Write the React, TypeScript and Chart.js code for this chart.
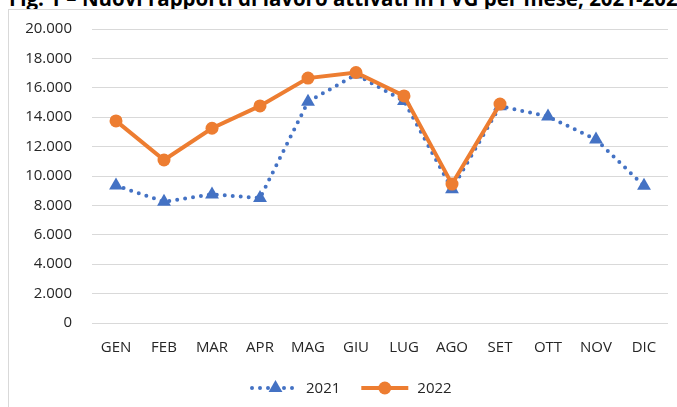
import React, { useEffect, useRef } from "react";
import { Chart, registerables } from "chart.js";

Chart.register(...registerables);

const TITLE = "Fig. 1 – Nuovi rapporti di lavoro attivati in FVG per mese, 2021-2022";
const months = ["GEN", "FEB", "MAR", "APR", "MAG", "GIU", "LUG", "AGO", "SET", "OTT", "NOV", "DIC"];
const values2021 = [9350, 8250, 8750, 8500, 15050, 16900, 15100, 9100, 14750, 14050, 12480, 9330];
const values2022 = [13750, 11090, 13250, 14770, 16660, 17040, 15450, 9450, 14890, null, null, null];
const yTicks = [0, 2000, 4000, 6000, 8000, 10000, 12000, 14000, 16000, 18000, 20000];

const BLUE = "#4472C4";
const ORANGE = "#ED7D31";
const FONT = '"Open Sans", "Noto Sans", sans-serif';
const TEXT = "#262626";

const fmt = (v: number) => v.toLocaleString("de-DE");

const legendPlugin = {
  id: "excelLegend",
  afterDraw(chart: any) {
    const ctx = chart.ctx as CanvasRenderingContext2D;
    const y = 378;
    ctx.save();
    ctx.font = `15px ${FONT}`;
    ctx.textBaseline = "middle";
    ctx.fillStyle = TEXT;
    const ds = chart.data.datasets;
    let x = 241;
    // 2021 sample
    ctx.strokeStyle = BLUE;
    ctx.lineWidth = 4;
    ctx.lineCap = "round";
    ctx.setLineDash([0, 8]);
    ctx.beginPath();
    ctx.moveTo(x + 2, y);
    ctx.lineTo(x + 47, y);
    ctx.stroke();
    ctx.setLineDash([]);
    const r = 8;
    const cx = x + 25.5;
    ctx.fillStyle = BLUE;
    ctx.beginPath();
    ctx.moveTo(cx, y - r);
    ctx.lineTo(cx + r * Math.sin((2 * Math.PI) / 3), y - r * Math.cos((2 * Math.PI) / 3));
    ctx.lineTo(cx + r * Math.sin((4 * Math.PI) / 3), y - r * Math.cos((4 * Math.PI) / 3));
    ctx.closePath();
    ctx.fill();
    ctx.fillStyle = TEXT;
    ctx.fillText(ds[0].label, x + 56, y + 1);
    x = x + 56 + ctx.measureText(ds[0].label).width + 21;
    // 2022 sample
    ctx.strokeStyle = ORANGE;
    ctx.lineWidth = 4;
    ctx.lineCap = "butt";
    ctx.beginPath();
    ctx.moveTo(x, y);
    ctx.lineTo(x + 47, y);
    ctx.stroke();
    ctx.fillStyle = ORANGE;
    ctx.beginPath();
    ctx.arc(x + 23.5, y, 6.5, 0, Math.PI * 2);
    ctx.fill();
    ctx.fillStyle = TEXT;
    ctx.fillText(ds[1].label, x + 56, y + 1);
    ctx.restore();
  },
};

export default function App() {
  const ref = useRef<HTMLCanvasElement | null>(null);

  useEffect(() => {
    document.body.style.margin = "0";
    if (!ref.current) return;
    const chart = new Chart(ref.current, {
      type: "line",
      data: {
        labels: months,
        datasets: [
          {
            label: "2021",
            data: values2021,
            borderColor: BLUE,
            backgroundColor: BLUE,
            borderWidth: 4,
            borderDash: [0, 8],
            borderCapStyle: "round",
            pointStyle: "triangle",
            pointRadius: 8,
            pointBorderWidth: 0,
            pointBackgroundColor: BLUE,
            tension: 0,
            order: 2,
          },
          {
            label: "2022",
            data: values2022,
            borderColor: ORANGE,
            backgroundColor: ORANGE,
            borderWidth: 4,
            pointStyle: "circle",
            pointRadius: 6.5,
            pointBorderWidth: 0,
            pointBackgroundColor: ORANGE,
            tension: 0,
            spanGaps: false,
            order: 1,
          },
        ],
      },
      options: {
        responsive: false,
        animation: false,
        layout: { padding: { top: 19, right: 9, bottom: 0, left: 0 } },
        plugins: { legend: { display: false }, tooltip: { enabled: false }, title: { display: false } },
        scales: {
          x: {
            offset: true,
            grid: { display: false, drawTicks: false, offset: true },
            border: { display: false },
            ticks: { font: { family: FONT, size: 15 }, color: TEXT, padding: 16, maxRotation: 0, autoSkip: false },
            afterFit(s: any) {
              s.height = 84;
            },
          },
          y: {
            min: 0,
            max: 20000,
            afterBuildTicks(s: any) {
              s.ticks = yTicks.map((v) => ({ value: v }));
            },
            ticks: {
              font: { family: FONT, size: 15 },
              color: TEXT,
              padding: 20,
              callback: (v: any) => fmt(Number(v)),
            },
            grid: { color: "#d9d9d9", lineWidth: 1, drawTicks: false },
            border: { display: false },
            afterFit(s: any) {
              s.width = 83;
              s.paddingTop = 0;
              s.paddingBottom = 0;
            },
          },
        },
      },
      plugins: [legendPlugin],
    } as any);
    return () => chart.destroy();
  }, []);

  return (
    <div style={{ position: "relative", width: 677, height: 407, overflow: "hidden", background: "#fff" }}>
      <div
        style={{
          position: "absolute",
          left: 9,
          top: -16,
          whiteSpace: "nowrap",
          fontFamily: FONT,
          fontWeight: 700,
          fontSize: 20.5,
          color: "#000",
        }}
      >
        {TITLE}
      </div>
      <div
        style={{
          position: "absolute",
          left: 8,
          top: 9,
          width: 720,
          height: 420,
          border: "1px solid #d9d9d9",
          background: "#fff",
        }}
      >
        <canvas ref={ref} width={668} height={397} style={{ display: "block" }} />
      </div>
    </div>
  );
}
